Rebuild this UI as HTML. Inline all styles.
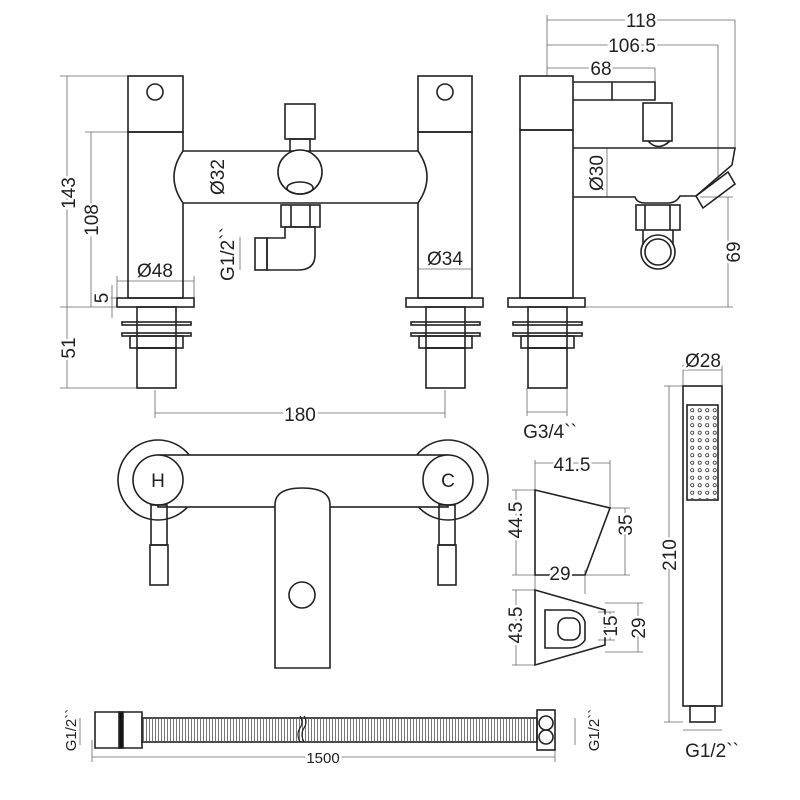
<!DOCTYPE html>
<html><head><style>body{margin:0;background:#fff}svg{display:block}text{font-family:"Liberation Sans",sans-serif;fill:#222}</style></head><body>
<svg width="800" height="800" viewBox="0 0 800 800" fill="none" stroke="#222" stroke-width="1.6">
<g stroke="#666" stroke-width="0.8">
<line x1="67" y1="76" x2="67" y2="388"/><line x1="60" y1="76" x2="128" y2="76"/>
<line x1="91" y1="132" x2="91" y2="307"/><line x1="85" y1="132" x2="128" y2="132"/>
<line x1="60" y1="307" x2="117" y2="307"/><line x1="60" y1="388" x2="137" y2="388"/>
<line x1="112" y1="285" x2="112" y2="318"/><line x1="108" y1="298" x2="117" y2="298"/>
<line x1="117" y1="281" x2="194" y2="281"/><line x1="117" y1="276" x2="117" y2="298"/><line x1="194" y1="276" x2="194" y2="298"/>
<line x1="418" y1="269" x2="472" y2="269"/>
<line x1="230" y1="151" x2="230" y2="203"/>
<line x1="240" y1="237" x2="240" y2="270"/>
<line x1="155" y1="390" x2="155" y2="418"/><line x1="445" y1="390" x2="445" y2="418"/><line x1="155" y1="413" x2="445" y2="413"/>
<line x1="547" y1="20" x2="735" y2="20"/><line x1="547" y1="45" x2="718" y2="45"/><line x1="547" y1="68" x2="655" y2="68"/>
<line x1="547" y1="15" x2="547" y2="76"/><line x1="735" y1="20" x2="735" y2="148"/><line x1="718" y1="45" x2="718" y2="180"/><line x1="655" y1="68" x2="655" y2="85"/>
<line x1="607" y1="148" x2="607" y2="197"/>
<line x1="728" y1="197" x2="728" y2="307"/><line x1="586" y1="307" x2="733" y2="307"/><line x1="700" y1="197" x2="733" y2="197"/>
<line x1="527" y1="412" x2="567" y2="412"/><line x1="527" y1="388" x2="527" y2="416"/><line x1="567" y1="388" x2="567" y2="416"/>
<line x1="535" y1="463" x2="610" y2="463"/><line x1="535" y1="460" x2="535" y2="490"/><line x1="610" y1="460" x2="610" y2="508"/>
<line x1="516" y1="490" x2="516" y2="575"/><line x1="512" y1="490" x2="535" y2="490"/><line x1="512" y1="575" x2="535" y2="575"/>
<line x1="625" y1="508" x2="625" y2="575"/><line x1="610" y1="508" x2="630" y2="508"/><line x1="585" y1="575" x2="630" y2="575"/>
<line x1="535" y1="570" x2="535" y2="594"/><line x1="585" y1="570" x2="585" y2="594"/>
<line x1="516" y1="590" x2="516" y2="665"/><line x1="512" y1="590" x2="535" y2="590"/><line x1="512" y1="665" x2="535" y2="665"/>
<line x1="610" y1="612" x2="610" y2="640"/><line x1="598" y1="612" x2="615" y2="612"/><line x1="598" y1="640" x2="615" y2="640"/>
<line x1="638" y1="603" x2="638" y2="652"/><line x1="605" y1="603" x2="643" y2="603"/><line x1="605" y1="652" x2="643" y2="652"/>
<line x1="683" y1="370" x2="722" y2="370"/><line x1="683" y1="365" x2="683" y2="386"/><line x1="722" y1="365" x2="722" y2="386"/>
<line x1="669" y1="386" x2="669" y2="722"/><line x1="664" y1="386" x2="683" y2="386"/><line x1="664" y1="722" x2="683" y2="722"/>
<line x1="683" y1="730" x2="722" y2="730"/>
<line x1="92" y1="757" x2="555" y2="757"/><line x1="92" y1="740" x2="92" y2="762"/><line x1="555" y1="740" x2="555" y2="762"/>
<line x1="80" y1="718" x2="80" y2="745"/><line x1="575" y1="718" x2="575" y2="745"/>
</g>
<rect x="128" y="76" width="55" height="56"/><circle cx="155" cy="92" r="8"/>
<rect x="128" y="132" width="55" height="166"/>
<rect x="418" y="76" width="54" height="56"/><circle cx="445" cy="92" r="8"/>
<rect x="418" y="132" width="54" height="166"/>
<path d="M183 151 H418 Q436 177 418 203 H183 Q165 177 183 151Z" fill="#fff"/>
<g id="base"><rect x="117" y="298" width="77" height="9"/><rect x="137" y="307" width="39" height="41"/>
<rect x="122" y="322" width="69" height="3"/><rect x="122" y="333" width="69" height="3"/>
<rect x="130" y="336" width="53" height="12"/><rect x="137" y="348" width="39" height="40"/></g>
<use href="#base" x="289"/><use href="#base" x="391"/>
<rect x="285" y="104" width="30" height="35"/><rect x="290" y="139" width="20" height="13"/>
<circle cx="300" cy="172" r="22" fill="#fff"/><ellipse cx="300" cy="188" rx="13" ry="6"/>
<rect x="281" y="205" width="39" height="22"/><line x1="291" y1="205" x2="291" y2="227"/><line x1="310" y1="205" x2="310" y2="227"/>
<path d="M285 227 H315 V255 Q315 270 298 270 H267 V238 H285Z"/><rect x="255" y="238" width="12" height="32"/>
<rect x="520" y="76" width="53" height="54"/><rect x="520" y="130" width="53" height="168"/>
<path d="M573 82 H655 V100 H573"/><line x1="612" y1="82" x2="612" y2="100"/>
<rect x="643" y="103" width="29" height="38"/><path d="M648 141 Q658 152 670 141"/>
<path d="M573 148 H735 L732 165 L696 196 H680 Q676 203 668 203 H645 Q637 203 635 197 H573"/>
<path d="M696 196 L728 172 L735 184 L703 208Z"/>
<rect x="636" y="205" width="44" height="25"/><line x1="645" y1="205" x2="645" y2="230"/><line x1="670" y1="205" x2="670" y2="230"/>
<path d="M643 230 V245 M673 230 V245"/><circle cx="658" cy="252" r="17"/><circle cx="658" cy="252" r="13"/>
<circle cx="158" cy="480" r="40" fill="#fff"/><circle cx="448" cy="480" r="40" fill="#fff"/>
<rect x="158" y="455" width="290" height="52" fill="#fff"/>
<circle cx="158" cy="480" r="25" fill="#fff"/><circle cx="448" cy="480" r="25" fill="#fff"/>
<path d="M275 668 V505 Q275 488 302 488 Q330 488 330 505 V668Z" fill="#fff"/>
<circle cx="302" cy="595" r="13"/>
<rect x="151" y="505" width="16" height="40"/><rect x="150" y="545" width="18" height="40"/>
<rect x="439" y="505" width="16" height="40"/><rect x="438" y="545" width="18" height="40"/>
<path d="M535 490 L610 508 L585 575 H535Z"/>
<path d="M535 590 L605 610 V645 L535 665Z"/>
<path d="M545 610 H570 Q582 612 585 622 V640 Q580 648 568 648 H545 Z"/><rect x="558" y="618" width="22" height="22" rx="8"/>
<rect x="683" y="386" width="39" height="320"/><rect x="690" y="706" width="25" height="16"/>
<rect x="687" y="405" width="31" height="95"/>
<pattern id="d" width="7.5" height="7.5" patternUnits="userSpaceOnUse" x="689" y="407"><circle cx="3.2" cy="3.2" r="1.6" stroke="#333" stroke-width="0.8"/></pattern>
<rect x="689" y="407" width="29" height="92" fill="url(#d)" stroke="none"/>
<path d="M95 712 H142 V748 H95Z"/><rect x="119" y="712" width="4" height="36" fill="#111"/>
<rect x="142" y="718" width="395" height="24"/>
<pattern id="h" width="3" height="24" patternUnits="userSpaceOnUse" x="142" y="718"><line x1="1.5" y1="0" x2="1.5" y2="24" stroke="#555" stroke-width="0.8"/></pattern>
<rect x="143" y="719" width="393" height="22" fill="url(#h)" stroke="none"/>
<path d="M300 716 q4 6 0 12 q-4 6 0 14 M304 716 q4 6 0 12 q-4 6 0 14" stroke-width="1.2"/>
<rect x="537" y="710" width="18" height="40"/><circle cx="546" cy="723" r="7"/><circle cx="546" cy="737" r="7"/>
<g font-size="19" stroke="#fff" stroke-width="5" style="paint-order:stroke">
<text x="75" y="193" transform="rotate(-90 75 193)" text-anchor="middle">143</text>
<text x="98" y="220" transform="rotate(-90 98 220)" text-anchor="middle">108</text>
<text x="75" y="348" transform="rotate(-90 75 348)" text-anchor="middle">51</text>
<text x="108" y="298" transform="rotate(-90 108 298)" text-anchor="middle">5</text>
<text x="155" y="277" text-anchor="middle">Ø48</text>
<text x="445" y="265" text-anchor="middle">Ø34</text>
<text x="224" y="177" transform="rotate(-90 224 177)" text-anchor="middle">Ø32</text>
<text x="234" y="254" transform="rotate(-90 234 254)" text-anchor="middle">G1/2``</text>
<text x="300" y="421" text-anchor="middle">180</text>
<text x="641" y="27" text-anchor="middle">118</text>
<text x="632" y="52" text-anchor="middle">106.5</text>
<text x="601" y="75" text-anchor="middle">68</text>
<text x="603" y="173" transform="rotate(-90 603 173)" text-anchor="middle">Ø30</text>
<text x="740" y="252" transform="rotate(-90 740 252)" text-anchor="middle">69</text>
<text x="550" y="438" text-anchor="middle">G3/4``</text>
<text x="572" y="471" text-anchor="middle">41.5</text>
<text x="560" y="580" text-anchor="middle">29</text>
<text x="522" y="520" transform="rotate(-90 522 520)" text-anchor="middle">44.5</text>
<text x="632" y="525" transform="rotate(-90 632 525)" text-anchor="middle">35</text>
<text x="522" y="625" transform="rotate(-90 522 625)" text-anchor="middle">43.5</text>
<text x="617" y="626" transform="rotate(-90 617 626)" text-anchor="middle">15</text>
<text x="645" y="628" transform="rotate(-90 645 628)" text-anchor="middle">29</text>
<text x="703" y="367" text-anchor="middle">Ø28</text>
<text x="676" y="555" transform="rotate(-90 676 555)" text-anchor="middle">210</text>
<text x="712" y="757" text-anchor="middle">G1/2``</text>
<text x="158" y="487" text-anchor="middle" stroke="none">H</text>
<text x="448" y="487" text-anchor="middle" stroke="none">C</text>
<text x="76" y="730" transform="rotate(-90 76 730)" text-anchor="middle" font-size="15">G1/2``</text>
<text x="599" y="730" transform="rotate(-90 599 730)" text-anchor="middle" font-size="15">G1/2``</text>
<text x="323" y="763" text-anchor="middle" font-size="15">1500</text>
</g>
</svg>
</body></html>
